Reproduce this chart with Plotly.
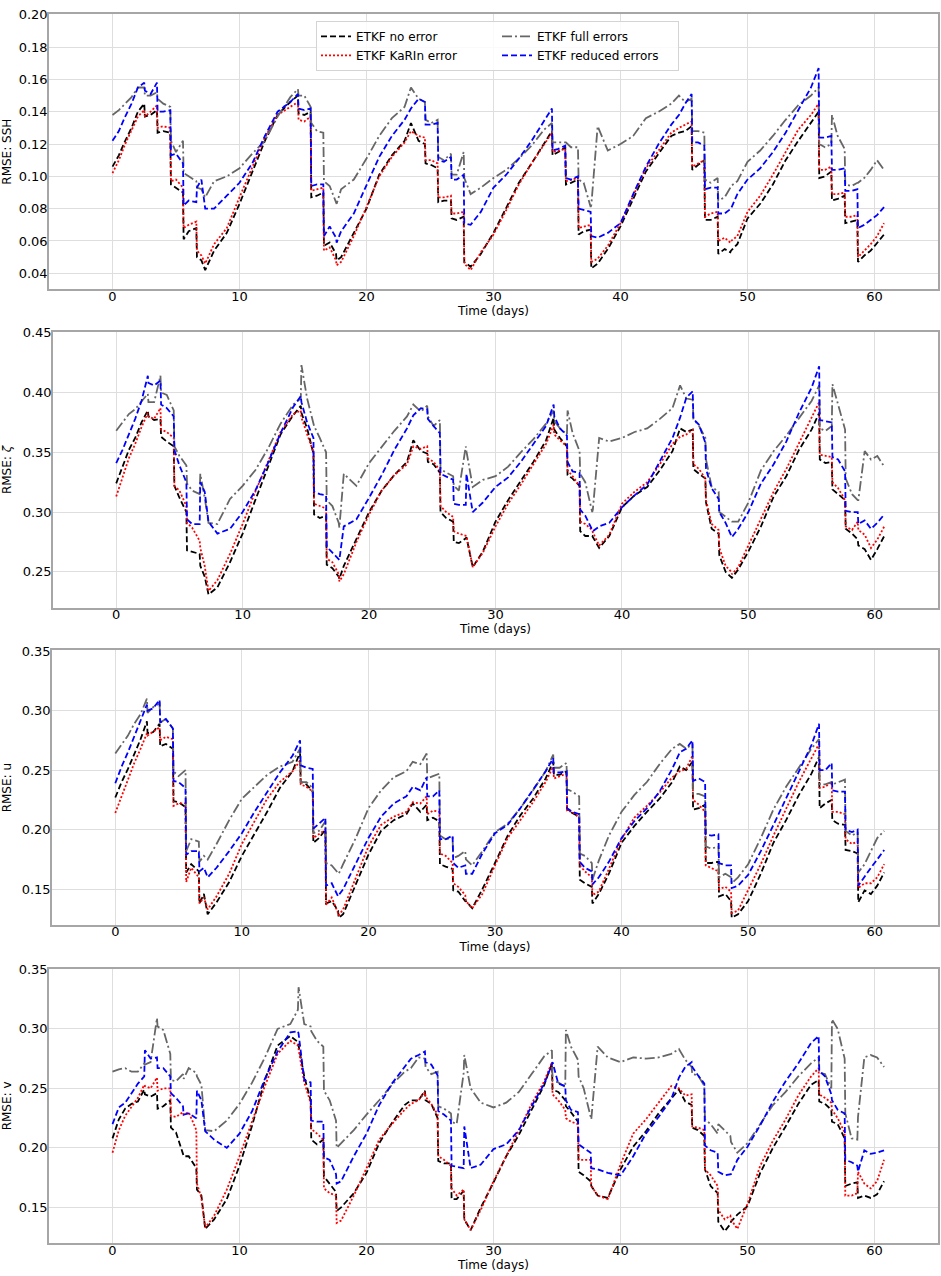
import plotly.graph_objects as go

FIG_W, FIG_H = 941, 1276

# time axis shared by every panel (days); pairs of close values mark the
# analysis jumps
TIME_DAYS = [
    0, 0.5, 1, 1.5, 2, 2.5, 2.55, 3, 3.5, 3.55, 4, 4.55, 4.6, 5, 5.55, 5.6, 6, 6.6, 6.65, 7.0, 7.3,
    8, 9, 10, 11, 12, 13, 14,
    14.6, 14.65, 15.1, 15.6, 15.65, 16.1, 16.6, 16.65, 17.1, 17.6, 17.65,
    18, 19, 20, 21, 22, 23, 23.5, 24.1,
    24.6, 24.65, 25.1, 25.6, 25.65, 26.1, 26.65, 26.7, 27.1, 27.65, 27.7,
    28.2, 29, 30, 31, 32, 33, 34,
    34.6, 34.65, 35.1, 35.65, 35.7, 36.1, 36.65, 36.7, 37.1, 37.65, 37.7,
    38.2, 39, 40, 41, 42, 43, 44, 44.6, 45.1,
    45.6, 45.65, 46.1, 46.6, 46.65, 47.1, 47.65, 47.7, 48.2, 48.65, 48.7,
    49.2, 50, 51, 52, 53, 54, 55,
    55.6, 55.65, 56.1, 56.6, 56.65, 57.1, 57.65, 57.7, 58.2, 58.65, 58.7,
    59.2, 59.7, 60.2, 60.75,
]

# --- SSH ---
SSH_NO_ERROR = [
    0.106, 0.113, 0.122, 0.130, 0.140, 0.145, 0.137, 0.138, 0.141, 0.127, 0.128, 0.127, 0.095, 0.093, 0.090, 0.061, 0.066, 0.068, 0.050, 0.048, 0.042,
    0.054, 0.065, 0.083, 0.103, 0.122, 0.138, 0.146,
    0.150, 0.139, 0.138, 0.140, 0.087, 0.088, 0.090, 0.057, 0.059, 0.052, 0.048,
    0.050, 0.065, 0.080, 0.101, 0.113, 0.122, 0.133, 0.122,
    0.120, 0.108, 0.107, 0.105, 0.084, 0.085, 0.085, 0.074, 0.073, 0.075, 0.047,
    0.044, 0.052, 0.065, 0.080, 0.096, 0.108, 0.120,
    0.128, 0.113, 0.115, 0.118, 0.095, 0.096, 0.098, 0.064, 0.066, 0.067, 0.043,
    0.046, 0.055, 0.069, 0.086, 0.103, 0.114, 0.125, 0.127, 0.128,
    0.131, 0.104, 0.107, 0.110, 0.073, 0.073, 0.075, 0.052, 0.055, 0.053, 0.054,
    0.058, 0.074, 0.083, 0.095, 0.110, 0.122, 0.133,
    0.140, 0.099, 0.100, 0.103, 0.085, 0.086, 0.088, 0.071, 0.072, 0.073, 0.047,
    0.051, 0.054, 0.059, 0.064,
]
SSH_KARIN = [
    0.102, 0.110, 0.120, 0.128, 0.137, 0.141, 0.137, 0.140, 0.144, 0.130, 0.131, 0.130, 0.097, 0.098, 0.093, 0.068, 0.070, 0.072, 0.054, 0.051, 0.046,
    0.058, 0.068, 0.087, 0.105, 0.124, 0.138, 0.143,
    0.146, 0.135, 0.134, 0.137, 0.091, 0.092, 0.093, 0.054, 0.056, 0.048, 0.045,
    0.047, 0.063, 0.081, 0.100, 0.112, 0.121, 0.128, 0.125,
    0.124, 0.110, 0.110, 0.108, 0.087, 0.087, 0.088, 0.077, 0.077, 0.078, 0.046,
    0.042, 0.053, 0.064, 0.079, 0.095, 0.108, 0.120,
    0.127, 0.115, 0.116, 0.117, 0.097, 0.098, 0.099, 0.068, 0.069, 0.070, 0.047,
    0.049, 0.057, 0.071, 0.088, 0.105, 0.116, 0.127, 0.130, 0.132,
    0.134, 0.106, 0.108, 0.110, 0.075, 0.077, 0.078, 0.060, 0.062, 0.059, 0.060,
    0.063, 0.078, 0.088, 0.101, 0.115, 0.129, 0.138,
    0.145, 0.104, 0.104, 0.106, 0.089, 0.089, 0.090, 0.075, 0.075, 0.076, 0.050,
    0.054, 0.058, 0.063, 0.071,
]
SSH_FULL = [
    0.138, 0.141, 0.145, 0.149, 0.155, 0.155, 0.150, 0.150, 0.152, 0.148, 0.145, 0.143, 0.122, 0.115, 0.122, 0.102, 0.100, 0.097, 0.093, 0.092, 0.087,
    0.097, 0.100, 0.105, 0.114, 0.122, 0.137, 0.149,
    0.154, 0.150, 0.150, 0.143, 0.133, 0.128, 0.127, 0.097, 0.094, 0.085, 0.083,
    0.092, 0.098, 0.111, 0.125, 0.136, 0.143, 0.155, 0.148,
    0.146, 0.135, 0.133, 0.135, 0.112, 0.110, 0.114, 0.101, 0.101, 0.115, 0.099,
    0.089, 0.093, 0.099, 0.104, 0.111, 0.119, 0.129,
    0.133, 0.121, 0.121, 0.121, 0.121, 0.118, 0.118, 0.098, 0.096, 0.081, 0.082,
    0.131, 0.116, 0.120, 0.125, 0.136, 0.140, 0.145, 0.150, 0.146,
    0.148, 0.128, 0.128, 0.127, 0.098, 0.096, 0.099, 0.085, 0.087, 0.093, 0.094,
    0.097, 0.109, 0.116, 0.125, 0.135, 0.144, 0.150,
    0.155, 0.120, 0.118, 0.120, 0.138, 0.125, 0.117, 0.095, 0.094, 0.096, 0.096,
    0.099, 0.104, 0.110, 0.104,
]
SSH_REDUCED = [
    0.122, 0.128, 0.137, 0.145, 0.155, 0.158, 0.153, 0.151, 0.158, 0.140, 0.140, 0.141, 0.113, 0.114, 0.108, 0.082, 0.085, 0.084, 0.093, 0.098, 0.080,
    0.080, 0.088, 0.096, 0.108, 0.125, 0.140, 0.146,
    0.151, 0.142, 0.141, 0.142, 0.094, 0.095, 0.095, 0.063, 0.069, 0.062, 0.059,
    0.066, 0.077, 0.095, 0.112, 0.125, 0.135, 0.142, 0.148,
    0.146, 0.132, 0.132, 0.133, 0.110, 0.109, 0.112, 0.098, 0.098, 0.101, 0.071,
    0.070, 0.078, 0.093, 0.101, 0.111, 0.122, 0.134,
    0.142, 0.116, 0.117, 0.119, 0.099, 0.098, 0.100, 0.080, 0.079, 0.078, 0.063,
    0.062, 0.065, 0.071, 0.089, 0.106, 0.120, 0.132, 0.138, 0.145,
    0.151, 0.121, 0.121, 0.119, 0.092, 0.093, 0.093, 0.077, 0.077, 0.080, 0.080,
    0.089, 0.098, 0.105, 0.115, 0.127, 0.141, 0.155,
    0.167, 0.124, 0.124, 0.125, 0.104, 0.104, 0.105, 0.091, 0.091, 0.092, 0.068,
    0.070, 0.073, 0.076, 0.081,
]

# --- relative vorticity ---
ZETA_NO_ERROR = [
    0.324, 0.338, 0.352, 0.362, 0.375, 0.385, 0.380, 0.377, 0.378, 0.363, 0.359, 0.355, 0.322, 0.312, 0.300, 0.268, 0.267, 0.265, 0.255, 0.246, 0.231,
    0.237, 0.258, 0.282, 0.310, 0.338, 0.365, 0.381,
    0.389, 0.383, 0.370, 0.349, 0.298, 0.295, 0.297, 0.256, 0.253, 0.246, 0.244,
    0.255, 0.278, 0.300, 0.318, 0.331, 0.342, 0.360, 0.351,
    0.349, 0.342, 0.340, 0.333, 0.300, 0.295, 0.292, 0.275, 0.274, 0.278, 0.279,
    0.254, 0.267, 0.292, 0.310, 0.326, 0.342, 0.360,
    0.379, 0.369, 0.362, 0.355, 0.331, 0.328, 0.322, 0.284, 0.280, 0.280, 0.279,
    0.270, 0.280, 0.304, 0.314, 0.321, 0.335, 0.351, 0.370, 0.367,
    0.369, 0.336, 0.332, 0.328, 0.308, 0.286, 0.282, 0.264, 0.250, 0.246, 0.245,
    0.252, 0.267, 0.288, 0.313, 0.330, 0.352, 0.369,
    0.383, 0.344, 0.341, 0.342, 0.319, 0.315, 0.310, 0.286, 0.282, 0.277, 0.272,
    0.269, 0.260, 0.269, 0.280,
]
ZETA_KARIN = [
    0.313, 0.330, 0.345, 0.357, 0.371, 0.383, 0.380, 0.378, 0.387, 0.369, 0.367, 0.362, 0.322, 0.318, 0.305, 0.291, 0.287, 0.276, 0.270, 0.255, 0.234,
    0.243, 0.265, 0.290, 0.317, 0.342, 0.367, 0.382,
    0.385, 0.379, 0.366, 0.350, 0.307, 0.305, 0.303, 0.261, 0.258, 0.248, 0.242,
    0.248, 0.275, 0.298, 0.318, 0.331, 0.340, 0.355, 0.353,
    0.355, 0.345, 0.342, 0.335, 0.305, 0.300, 0.296, 0.284, 0.282, 0.280, 0.280,
    0.254, 0.266, 0.288, 0.307, 0.323, 0.340, 0.357,
    0.373, 0.365, 0.360, 0.355, 0.335, 0.330, 0.322, 0.292, 0.290, 0.285, 0.283,
    0.272, 0.281, 0.307, 0.317, 0.325, 0.340, 0.357, 0.363, 0.365,
    0.369, 0.340, 0.336, 0.328, 0.310, 0.290, 0.285, 0.270, 0.255, 0.250, 0.248,
    0.254, 0.272, 0.295, 0.317, 0.336, 0.358, 0.380,
    0.392, 0.348, 0.347, 0.346, 0.325, 0.320, 0.310, 0.288, 0.285, 0.292, 0.285,
    0.281, 0.270, 0.277, 0.288,
]
ZETA_FULL = [
    0.368, 0.375, 0.382, 0.386, 0.393, 0.399, 0.392, 0.392, 0.414, 0.400, 0.398, 0.385, 0.355, 0.347, 0.339, 0.324, 0.318, 0.315, 0.332, 0.312, 0.291,
    0.290, 0.311, 0.322, 0.335, 0.353, 0.374, 0.390,
    0.395, 0.423, 0.395, 0.376, 0.372, 0.362, 0.350, 0.310, 0.305, 0.291, 0.287,
    0.332, 0.322, 0.341, 0.355, 0.368, 0.380, 0.390, 0.384,
    0.389, 0.380, 0.372, 0.377, 0.336, 0.333, 0.330, 0.322, 0.318, 0.355, 0.351,
    0.321, 0.327, 0.330, 0.338, 0.350, 0.361, 0.374,
    0.385, 0.376, 0.370, 0.365, 0.385, 0.366, 0.351, 0.332, 0.325, 0.300, 0.302,
    0.362, 0.359, 0.362, 0.367, 0.370, 0.378, 0.387, 0.406, 0.395,
    0.394, 0.378, 0.372, 0.362, 0.344, 0.321, 0.317, 0.300, 0.296, 0.293, 0.292,
    0.292, 0.308, 0.335, 0.351, 0.364, 0.379, 0.393,
    0.406, 0.370, 0.368, 0.372, 0.407, 0.389, 0.369, 0.328, 0.315, 0.310, 0.310,
    0.351, 0.344, 0.347, 0.338,
]
ZETA_REDUCED = [
    0.341, 0.352, 0.365, 0.378, 0.393, 0.414, 0.408, 0.406, 0.410, 0.390, 0.387, 0.380, 0.352, 0.339, 0.325, 0.294, 0.290, 0.290, 0.325, 0.317, 0.292,
    0.282, 0.286, 0.300, 0.318, 0.341, 0.366, 0.388,
    0.397, 0.392, 0.375, 0.362, 0.317, 0.315, 0.314, 0.271, 0.266, 0.261, 0.260,
    0.288, 0.294, 0.312, 0.331, 0.352, 0.370, 0.381, 0.387,
    0.386, 0.378, 0.372, 0.366, 0.332, 0.330, 0.327, 0.307, 0.306, 0.306, 0.332,
    0.300, 0.308, 0.321, 0.329, 0.342, 0.357, 0.372,
    0.390, 0.380, 0.370, 0.364, 0.342, 0.334, 0.333, 0.302, 0.297, 0.286, 0.284,
    0.288, 0.291, 0.304, 0.314, 0.323, 0.342, 0.362, 0.379, 0.396,
    0.401, 0.378, 0.373, 0.358, 0.336, 0.320, 0.311, 0.300, 0.291, 0.280, 0.279,
    0.286, 0.300, 0.324, 0.340, 0.359, 0.383, 0.404,
    0.422, 0.377, 0.376, 0.375, 0.346, 0.344, 0.334, 0.301, 0.300, 0.300, 0.290,
    0.293, 0.286, 0.291, 0.298,
]

# --- u velocity ---
U_NO_ERROR = [
    0.227, 0.240, 0.251, 0.263, 0.276, 0.291, 0.281, 0.282, 0.289, 0.270, 0.272, 0.268, 0.224, 0.223, 0.219, 0.164, 0.171, 0.165, 0.138, 0.146, 0.129,
    0.139, 0.156, 0.178, 0.196, 0.215, 0.235, 0.249,
    0.265, 0.240, 0.238, 0.232, 0.189, 0.193, 0.200, 0.138, 0.140, 0.132, 0.126,
    0.129, 0.154, 0.179, 0.199, 0.208, 0.213, 0.222, 0.215,
    0.221, 0.208, 0.210, 0.207, 0.171, 0.169, 0.167, 0.149, 0.148, 0.140, 0.140,
    0.134, 0.150, 0.172, 0.195, 0.212, 0.226, 0.243,
    0.257, 0.246, 0.246, 0.249, 0.217, 0.214, 0.211, 0.158, 0.155, 0.152, 0.138,
    0.146, 0.163, 0.189, 0.203, 0.215, 0.226, 0.240, 0.253, 0.250,
    0.257, 0.217, 0.218, 0.221, 0.172, 0.172, 0.173, 0.144, 0.146, 0.140, 0.126,
    0.129, 0.140, 0.163, 0.189, 0.208, 0.229, 0.247,
    0.261, 0.218, 0.222, 0.225, 0.208, 0.205, 0.204, 0.183, 0.182, 0.180, 0.139,
    0.149, 0.146, 0.153, 0.164,
]
U_KARIN = [
    0.214, 0.228, 0.243, 0.256, 0.268, 0.281, 0.279, 0.282, 0.286, 0.275, 0.278, 0.276, 0.220, 0.222, 0.222, 0.156, 0.168, 0.160, 0.138, 0.143, 0.133,
    0.144, 0.163, 0.188, 0.207, 0.226, 0.240, 0.249,
    0.258, 0.238, 0.236, 0.232, 0.193, 0.196, 0.200, 0.137, 0.143, 0.130, 0.128,
    0.133, 0.160, 0.186, 0.204, 0.211, 0.215, 0.223, 0.222,
    0.228, 0.213, 0.216, 0.215, 0.180, 0.178, 0.172, 0.155, 0.152, 0.145, 0.140,
    0.134, 0.146, 0.170, 0.193, 0.208, 0.223, 0.240,
    0.253, 0.243, 0.245, 0.247, 0.216, 0.215, 0.210, 0.170, 0.165, 0.160, 0.145,
    0.148, 0.167, 0.192, 0.210, 0.220, 0.231, 0.244, 0.249, 0.251,
    0.262, 0.225, 0.221, 0.215, 0.170, 0.168, 0.165, 0.150, 0.152, 0.148, 0.130,
    0.132, 0.149, 0.171, 0.195, 0.218, 0.240, 0.260,
    0.272, 0.235, 0.236, 0.240, 0.215, 0.215, 0.213, 0.192, 0.188, 0.190, 0.151,
    0.155, 0.155, 0.160, 0.171,
]
U_FULL = [
    0.264, 0.272, 0.279, 0.289, 0.297, 0.310, 0.298, 0.303, 0.306, 0.290, 0.293, 0.285, 0.249, 0.245, 0.250, 0.182, 0.192, 0.190, 0.173, 0.178, 0.175,
    0.188, 0.208, 0.226, 0.236, 0.246, 0.253, 0.257,
    0.268, 0.240, 0.240, 0.235, 0.197, 0.199, 0.207, 0.172, 0.170, 0.163, 0.163,
    0.171, 0.193, 0.218, 0.233, 0.244, 0.249, 0.257, 0.255,
    0.264, 0.243, 0.245, 0.247, 0.195, 0.192, 0.193, 0.176, 0.178, 0.182, 0.175,
    0.170, 0.182, 0.198, 0.205, 0.218, 0.233, 0.249,
    0.263, 0.252, 0.252, 0.256, 0.234, 0.232, 0.228, 0.180, 0.178, 0.172, 0.158,
    0.174, 0.195, 0.215, 0.229, 0.240, 0.255, 0.268, 0.272, 0.268,
    0.272, 0.230, 0.230, 0.228, 0.186, 0.184, 0.186, 0.160, 0.163, 0.160, 0.155,
    0.160, 0.171, 0.193, 0.217, 0.236, 0.252, 0.268,
    0.276, 0.238, 0.238, 0.240, 0.238, 0.240, 0.242, 0.199, 0.195, 0.198, 0.164,
    0.171, 0.182, 0.193, 0.199,
]
U_REDUCED = [
    0.239, 0.253, 0.265, 0.278, 0.292, 0.305, 0.300, 0.302, 0.309, 0.290, 0.293, 0.285, 0.241, 0.240, 0.235, 0.179, 0.182, 0.182, 0.165, 0.168, 0.160,
    0.168, 0.182, 0.197, 0.215, 0.232, 0.248, 0.262,
    0.275, 0.254, 0.252, 0.251, 0.201, 0.205, 0.210, 0.153, 0.155, 0.144, 0.145,
    0.150, 0.171, 0.193, 0.211, 0.222, 0.228, 0.236, 0.233,
    0.244, 0.228, 0.228, 0.233, 0.192, 0.192, 0.195, 0.172, 0.168, 0.170, 0.163,
    0.163, 0.180, 0.197, 0.204, 0.218, 0.234, 0.249,
    0.260, 0.248, 0.248, 0.249, 0.218, 0.215, 0.213, 0.173, 0.168, 0.165, 0.154,
    0.160, 0.173, 0.193, 0.207, 0.218, 0.232, 0.251, 0.265, 0.268,
    0.275, 0.241, 0.243, 0.240, 0.196, 0.195, 0.196, 0.172, 0.170, 0.170, 0.151,
    0.153, 0.162, 0.182, 0.204, 0.226, 0.248, 0.271,
    0.289, 0.250, 0.250, 0.256, 0.233, 0.232, 0.232, 0.200, 0.198, 0.200, 0.153,
    0.161, 0.168, 0.175, 0.183,
]

# --- v velocity ---
V_NO_ERROR = [
    0.208, 0.224, 0.233, 0.237, 0.239, 0.249, 0.245, 0.243, 0.246, 0.233, 0.235, 0.240, 0.217, 0.213, 0.195, 0.193, 0.193, 0.183, 0.165, 0.160, 0.132,
    0.140, 0.157, 0.185, 0.219, 0.257, 0.286, 0.294,
    0.289, 0.286, 0.260, 0.240, 0.207, 0.203, 0.207, 0.176, 0.170, 0.163, 0.147,
    0.150, 0.162, 0.179, 0.204, 0.221, 0.236, 0.240, 0.240,
    0.248, 0.240, 0.237, 0.225, 0.189, 0.187, 0.187, 0.157, 0.157, 0.164, 0.140,
    0.131, 0.150, 0.171, 0.193, 0.211, 0.232, 0.253,
    0.271, 0.249, 0.247, 0.240, 0.235, 0.230, 0.222, 0.180, 0.177, 0.172, 0.168,
    0.160, 0.158, 0.182, 0.201, 0.214, 0.229, 0.241, 0.249, 0.239,
    0.236, 0.217, 0.215, 0.210, 0.182, 0.168, 0.162, 0.138, 0.130, 0.136, 0.138,
    0.144, 0.151, 0.179, 0.200, 0.218, 0.237, 0.253,
    0.257, 0.239, 0.237, 0.232, 0.222, 0.220, 0.208, 0.168, 0.170, 0.171, 0.158,
    0.160, 0.158, 0.161, 0.172,
]
V_KARIN = [
    0.196, 0.215, 0.227, 0.235, 0.242, 0.253, 0.252, 0.250, 0.259, 0.248, 0.250, 0.250, 0.227, 0.226, 0.230, 0.228, 0.230, 0.215, 0.170, 0.158, 0.133,
    0.143, 0.165, 0.193, 0.222, 0.252, 0.279, 0.290,
    0.286, 0.283, 0.255, 0.238, 0.216, 0.212, 0.207, 0.166, 0.162, 0.160, 0.137,
    0.139, 0.160, 0.183, 0.207, 0.220, 0.232, 0.237, 0.240,
    0.247, 0.243, 0.237, 0.228, 0.193, 0.190, 0.185, 0.166, 0.160, 0.165, 0.140,
    0.131, 0.148, 0.172, 0.193, 0.215, 0.237, 0.256,
    0.272, 0.245, 0.240, 0.232, 0.225, 0.222, 0.220, 0.190, 0.190, 0.190, 0.168,
    0.160, 0.157, 0.186, 0.212, 0.224, 0.238, 0.252, 0.250, 0.244,
    0.245, 0.218, 0.217, 0.215, 0.182, 0.177, 0.168, 0.148, 0.140, 0.143, 0.140,
    0.132, 0.153, 0.185, 0.206, 0.224, 0.244, 0.260,
    0.267, 0.245, 0.242, 0.238, 0.232, 0.225, 0.213, 0.160, 0.160, 0.162, 0.180,
    0.170, 0.166, 0.172, 0.190,
]
V_FULL = [
    0.264, 0.266, 0.267, 0.264, 0.264, 0.271, 0.270, 0.272, 0.309, 0.302, 0.299, 0.279, 0.257, 0.256, 0.262, 0.258, 0.267, 0.263, 0.260, 0.253, 0.215,
    0.214, 0.223, 0.237, 0.255, 0.276, 0.300, 0.304,
    0.316, 0.335, 0.304, 0.302, 0.298, 0.290, 0.285, 0.248, 0.240, 0.223, 0.200,
    0.204, 0.215, 0.228, 0.240, 0.253, 0.264, 0.267, 0.276,
    0.275, 0.268, 0.262, 0.264, 0.235, 0.233, 0.229, 0.222, 0.220, 0.263, 0.278,
    0.250, 0.238, 0.234, 0.238, 0.247, 0.262, 0.277,
    0.282, 0.256, 0.255, 0.251, 0.299, 0.285, 0.274, 0.260, 0.250, 0.225, 0.224,
    0.285, 0.276, 0.272, 0.276, 0.275, 0.276, 0.279, 0.283, 0.274,
    0.268, 0.262, 0.261, 0.252, 0.224, 0.220, 0.212, 0.220, 0.215, 0.210, 0.205,
    0.196, 0.204, 0.220, 0.236, 0.247, 0.260, 0.271,
    0.276, 0.263, 0.262, 0.250, 0.308, 0.300, 0.275, 0.229, 0.208, 0.207, 0.226,
    0.276, 0.278, 0.276, 0.268,
]
V_REDUCED = [
    0.220, 0.234, 0.238, 0.246, 0.254, 0.260, 0.282, 0.275, 0.276, 0.267, 0.267, 0.260, 0.246, 0.242, 0.235, 0.228, 0.229, 0.225, 0.248, 0.240, 0.214,
    0.207, 0.200, 0.212, 0.231, 0.258, 0.281, 0.297,
    0.298, 0.296, 0.257, 0.255, 0.223, 0.222, 0.222, 0.192, 0.190, 0.178, 0.170,
    0.172, 0.193, 0.212, 0.236, 0.254, 0.268, 0.275, 0.278,
    0.281, 0.272, 0.270, 0.261, 0.231, 0.228, 0.223, 0.185, 0.184, 0.183, 0.218,
    0.183, 0.186, 0.199, 0.203, 0.215, 0.235, 0.254,
    0.270, 0.272, 0.254, 0.252, 0.240, 0.232, 0.230, 0.203, 0.200, 0.196, 0.183,
    0.182, 0.179, 0.177, 0.193, 0.212, 0.226, 0.241, 0.259, 0.268,
    0.272, 0.268, 0.261, 0.254, 0.202, 0.198, 0.196, 0.180, 0.177, 0.178, 0.178,
    0.190, 0.201, 0.219, 0.239, 0.256, 0.271, 0.288,
    0.294, 0.265, 0.260, 0.245, 0.240, 0.232, 0.229, 0.190, 0.188, 0.185, 0.180,
    0.198, 0.195, 0.196, 0.198,
]

SERIES_NAMES = ["ETKF no error", "ETKF KaRIn error", "ETKF full errors", "ETKF reduced errors"]

# drawing style per series, same order as SERIES_NAMES
SERIES_STYLE = [
    dict(color="black", dash="6px,3px", group="left"),
    dict(color="red", dash="2px,2px", group="left"),
    dict(color="#666666", dash="10px,3px,2px,3px", group="right"),
    dict(color="blue", dash="6px,3px", group="right"),
]

# plot-area boxes in pixels: left, top, bottom (right edge is shared)
PLOT_RIGHT = 938
panels = [
    dict(ylabel="RMSE: SSH", series=[SSH_NO_ERROR, SSH_KARIN, SSH_FULL, SSH_REDUCED],
         yrange=[0.03, 0.2005], dtick=0.02, box=(49, 7, 284)),
    dict(ylabel="RMSE: <i>ζ</i>", series=[ZETA_NO_ERROR, ZETA_KARIN, ZETA_FULL, ZETA_REDUCED],
         yrange=[0.22, 0.4505], dtick=0.05, box=(53, 327, 604)),
    dict(ylabel="RMSE: u", series=[U_NO_ERROR, U_KARIN, U_FULL, U_REDUCED],
         yrange=[0.12, 0.3505], dtick=0.05, box=(52, 647, 923)),
    dict(ylabel="RMSE: v", series=[V_NO_ERROR, V_KARIN, V_FULL, V_REDUCED],
         yrange=[0.12, 0.3505], dtick=0.05, box=(49, 967, 1243)),
]

FONT = "DejaVu Sans"
GRID = "#dedede"
FRAME = "#a6a6a6"

fig = go.Figure()

for idx, panel in enumerate(panels, start=1):
    suffix = "" if idx == 1 else str(idx)
    for name, values, style in zip(SERIES_NAMES, panel["series"], SERIES_STYLE):
        assert len(values) == len(TIME_DAYS), (panel["ylabel"], name, len(values))
        fig.add_trace(go.Scatter(
            x=TIME_DAYS,
            y=values,
            mode="lines",
            name=name,
            legendgroup=style["group"],
            showlegend=(idx == 1),
            line=dict(color=style["color"], width=1.8, dash=style["dash"]),
            xaxis="x" + suffix,
            yaxis="y" + suffix,
        ))

    left, top, bottom = panel["box"]
    fig.update_layout({
        "xaxis" + suffix: dict(
            domain=[left / FIG_W, PLOT_RIGHT / FIG_W],
            anchor="y" + suffix,
            range=[-5, 65],
            tickvals=[0, 10, 20, 30, 40, 50, 60],
            ticks="", ticklen=0,
            ticklabelstandoff=-6,
            tickfont=dict(size=13, color="black"),
            showgrid=True, gridcolor=GRID, gridwidth=1.2,
            zeroline=False,
            showline=True, mirror=True, linecolor=FRAME, linewidth=1.5,
            title=dict(text="Time (days)", font=dict(size=12, color="black"), standoff=4),
        ),
        "yaxis" + suffix: dict(
            domain=[1 - bottom / FIG_H, 1 - top / FIG_H],
            anchor="x" + suffix,
            range=panel["yrange"],
            tick0=0,
            dtick=panel["dtick"],
            tickformat=".2f",
            ticks="", ticklen=0,
            ticklabelstandoff=-3,
            tickfont=dict(size=13, color="black"),
            showgrid=True, gridcolor=GRID, gridwidth=1.2,
            zeroline=False,
            showline=True, mirror=True, linecolor=FRAME, linewidth=1.5,
            title=dict(text=panel["ylabel"], font=dict(size=12, color="black"), standoff=8),
        ),
    })

fig.update_layout(
    width=FIG_W,
    height=FIG_H,
    margin=dict(l=0, r=0, t=0, b=0),
    paper_bgcolor="white",
    plot_bgcolor="white",
    font=dict(family=FONT, size=12, color="black"),
    legend=dict(
        orientation="h",
        traceorder="grouped",
        entrywidth=136,
        x=316 / FIG_W,
        y=1 - 14 / FIG_H,
        xanchor="left",
        yanchor="top",
        bgcolor="rgba(255,255,255,0.85)",
        bordercolor="#d4d4d4",
        borderwidth=1,
        font=dict(size=12, color="black"),
    ),
)

# drop the page's default body margin so the figure sits at the window corner
fig.write_html(
    "out.html",
    config={"displayModeBar": False},
    post_script="document.body.style.margin = '0'; document.body.style.padding = '0';",
)
